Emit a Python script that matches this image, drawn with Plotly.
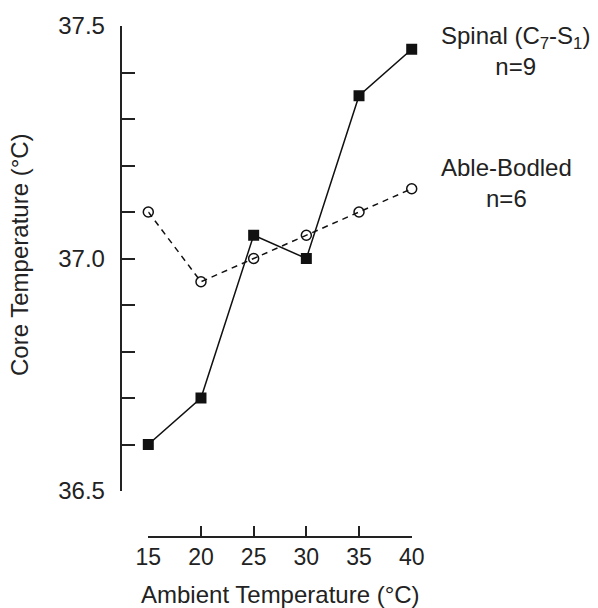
import plotly.graph_objects as go

ambient = [15, 20, 25, 30, 35, 40]
spinal = [36.6, 36.7, 37.05, 37.0, 37.35, 37.45]
able_bodied = [37.1, 36.95, 37.0, 37.05, 37.1, 37.15]
y_tickvals = [36.5, 36.6, 36.7, 36.8, 36.9, 37.0, 37.1, 37.2, 37.3, 37.4, 37.5]
y_ticktext = ["36.5", "", "", "", "", "37.0", "", "", "", "", "37.5"]
x_ticks = [15, 20, 25, 30, 35, 40]

W, H = 598, 608
FONT = "Liberation Sans, Arial, sans-serif"
TXT = "#222222"

def px_x(p):
    return p / W

def px_y(p):
    return 1 - p / H

fig = go.Figure()
fig.add_trace(go.Scatter(
    x=ambient, y=able_bodied, mode="lines+markers",
    line=dict(color="#111111", width=1.5, dash="6px,5px"),
    marker=dict(symbol="circle-open", size=10, color="#111111", line=dict(width=1.5)),
    cliponaxis=False, showlegend=False))
fig.add_trace(go.Scatter(
    x=ambient, y=spinal, mode="lines+markers",
    line=dict(color="#111111", width=1.5),
    marker=dict(symbol="square", size=11, color="#111111"),
    cliponaxis=False, showlegend=False))

fig.update_layout(
    width=W, height=H,
    margin=dict(l=0, r=0, t=0, b=0, autoexpand=False),
    paper_bgcolor="white", plot_bgcolor="white",
    font=dict(family=FONT, size=23, color=TXT),
    xaxis=dict(
        domain=[px_x(148.3), px_x(411.7)], range=[15, 40],
        anchor="free", position=px_y(537), automargin=False,
        showline=True, linecolor="#222222", linewidth=1.5,
        ticks="inside", ticklen=10, tickwidth=1.5, tickcolor="#222222",
        tickvals=x_ticks, ticktext=[str(v) for v in x_ticks],
        showgrid=False, zeroline=False,
        tickfont=dict(size=23, color=TXT),
    ),
    yaxis=dict(
        domain=[px_y(491), px_y(26)], range=[36.5, 37.5],
        anchor="free", position=px_x(120.5), automargin=False,
        showline=True, linecolor="#222222", linewidth=1.5,
        ticks="inside", ticklen=14, tickwidth=1.5, tickcolor="#222222",
        tickvals=y_tickvals, ticktext=y_ticktext,
        showgrid=False, zeroline=False,
        tickfont=dict(size=24, color=TXT), ticklabelstandoff=10,
    ),
    annotations=[
        dict(text="Ambient Temperature (°C)", x=px_x(280), y=px_y(594),
             xref="paper", yref="paper", xanchor="center", yanchor="middle",
             showarrow=False, font=dict(size=24, color=TXT)),
        dict(text="Core Temperature (°C)", x=px_x(20), y=px_y(255), textangle=-90,
             xref="paper", yref="paper", xanchor="center", yanchor="middle",
             showarrow=False, font=dict(size=24, color=TXT)),
        dict(text="Spinal (C<sub>7</sub>-S<sub>1</sub>)<br>n=9", x=px_x(515), y=px_y(51),
             xref="paper", yref="paper", xanchor="center", yanchor="middle",
             showarrow=False, align="center", font=dict(size=24, color=TXT)),
        dict(text="Able-Bodled<br>n=6", x=px_x(506), y=px_y(183),
             xref="paper", yref="paper", xanchor="center", yanchor="middle",
             showarrow=False, align="center", font=dict(size=24, color=TXT)),
    ],
)

fig.write_html(
    "out.html",
    config={"displayModeBar": False},
    post_script="document.body.style.margin='0';document.body.style.overflow='hidden';",
)
